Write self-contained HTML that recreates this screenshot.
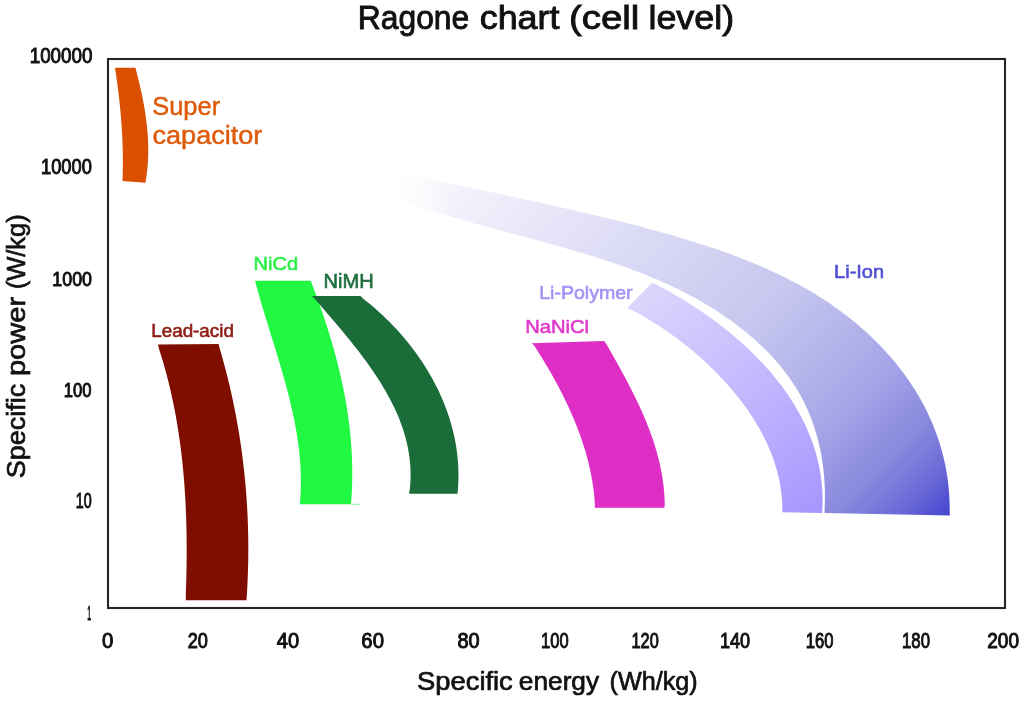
<!DOCTYPE html>
<html><head><meta charset="utf-8"><title>Ragone chart (cell level)</title>
<style>
html,body{margin:0;padding:0;background:#fff;width:1024px;height:705px;overflow:hidden}
svg{display:block}
text{font-family:"Liberation Sans", "DejaVu Sans", sans-serif}
.tick{stroke:#111;stroke-width:1.0px}
.title{stroke:#111;stroke-width:0.9px}
.axis{stroke:#111;stroke-width:0.7px}
.big{stroke:#DE5A0A;stroke-width:0.45px}
.lab{stroke-width:0.6px}
</style></head><body>
<svg width="1024" height="705" viewBox="0 0 1024 705">
<defs>
<linearGradient id="gLion" gradientUnits="userSpaceOnUse" x1="300" y1="300" x2="730" y2="730">
<stop offset="0" stop-color="#f6f5fc"/>
<stop offset="0.116" stop-color="#eeedfa"/>
<stop offset="0.337" stop-color="#dad9f5"/>
<stop offset="0.558" stop-color="#c6c6ef"/>
<stop offset="0.756" stop-color="#a6a6e8"/>
<stop offset="0.872" stop-color="#8888de"/>
<stop offset="0.94" stop-color="#6c6cd8"/>
<stop offset="1" stop-color="#4848d0"/>
</linearGradient>
<linearGradient id="gFade" gradientUnits="userSpaceOnUse" x1="396" y1="0" x2="460" y2="0">
<stop offset="0" stop-color="#fff" stop-opacity="1"/>
<stop offset="1" stop-color="#fff" stop-opacity="0"/>
</linearGradient>
<linearGradient id="gLipo" gradientUnits="userSpaceOnUse" x1="640" y1="290" x2="815" y2="515">
<stop offset="0" stop-color="#dcd6fc"/>
<stop offset="0.5" stop-color="#c4b8fe"/>
<stop offset="1" stop-color="#a696ff"/>
</linearGradient>
</defs>
<rect x="0" y="0" width="1024" height="705" fill="#fff"/>
<rect x="108" y="59" width="897" height="549" fill="none" stroke="#262626" stroke-width="2.1"/>
<path d="M400.00,200.00 L404.78,201.14 L409.31,202.80 L413.84,204.42 L418.39,206.01 L422.96,207.57 L427.54,209.11 L432.14,210.61 L436.74,212.10 L441.36,213.55 L445.99,214.99 L450.63,216.40 L455.28,217.79 L459.94,219.17 L464.61,220.52 L469.28,221.87 L473.97,223.19 L478.65,224.51 L483.35,225.81 L488.05,227.10 L492.76,228.39 L497.47,229.67 L502.18,230.94 L506.89,232.20 L511.61,233.47 L516.33,234.73 L521.05,235.99 L525.77,237.25 L530.49,238.52 L535.21,239.79 L539.92,241.07 L544.64,242.35 L549.35,243.64 L554.05,244.94 L558.76,246.25 L563.45,247.57 L568.14,248.91 L572.83,250.27 L577.51,251.64 L582.17,253.02 L586.84,254.43 L591.49,255.86 L596.13,257.31 L600.76,258.79 L605.38,260.29 L609.99,261.81 L614.59,263.37 L619.17,264.95 L623.74,266.57 L628.29,268.21 L632.83,269.90 L637.36,271.61 L641.87,273.36 L646.36,275.15 L650.83,276.98 L655.28,278.86 L659.72,280.77 L664.14,282.72 L668.53,284.73 L672.91,286.77 L677.26,288.87 L681.59,291.01 L685.90,293.21 L690.19,295.46 L694.45,297.76 L698.68,300.11 L702.89,302.52 L707.08,304.99 L711.23,307.52 L715.36,310.11 L719.45,312.76 L723.51,315.47 L727.53,318.24 L731.52,321.07 L735.45,323.96 L739.34,326.91 L743.19,329.93 L746.98,333.01 L750.71,336.15 L754.39,339.36 L758.01,342.63 L761.57,345.96 L765.06,349.36 L768.48,352.83 L771.83,356.36 L775.10,359.95 L778.29,363.61 L781.40,367.34 L784.42,371.13 L787.34,374.99 L790.17,378.92 L792.90,382.91 L795.52,386.96 L798.03,391.09 L800.42,395.28 L802.70,399.53 L804.87,403.85 L806.91,408.22 L808.85,412.66 L810.66,417.14 L812.37,421.68 L813.96,426.26 L815.44,430.89 L816.81,435.55 L818.07,440.26 L819.22,445.00 L820.26,449.77 L821.19,454.56 L822.02,459.38 L822.74,464.23 L823.36,469.09 L823.88,473.96 L824.29,478.85 L824.60,483.74 L824.80,488.64 L824.91,493.55 L824.92,498.45 L824.83,503.34 L824.64,508.23 L824.60,513.00 L949.80,515.60 L949.70,510.37 L949.63,503.98 L949.39,497.66 L948.98,491.41 L948.39,485.21 L947.64,479.09 L946.72,473.03 L945.64,467.03 L944.40,461.11 L943.01,455.25 L941.46,449.45 L939.77,443.73 L937.92,438.07 L935.94,432.49 L933.81,426.97 L931.54,421.53 L929.14,416.15 L926.60,410.85 L923.94,405.61 L921.15,400.45 L918.24,395.37 L915.20,390.35 L912.05,385.41 L908.78,380.55 L905.40,375.76 L901.92,371.04 L898.32,366.40 L894.63,361.84 L890.83,357.35 L886.94,352.94 L882.95,348.61 L878.87,344.35 L874.71,340.18 L870.45,336.08 L866.12,332.07 L861.71,328.13 L857.22,324.27 L852.65,320.50 L848.02,316.81 L843.32,313.20 L838.55,309.67 L833.72,306.23 L828.83,302.87 L823.89,299.59 L818.89,296.40 L813.85,293.29 L808.75,290.26 L803.60,287.31 L798.41,284.43 L793.17,281.63 L787.90,278.90 L782.58,276.25 L777.22,273.66 L771.82,271.13 L766.39,268.67 L760.92,266.28 L755.42,263.94 L749.89,261.66 L744.33,259.44 L738.75,257.28 L733.14,255.16 L727.51,253.10 L721.85,251.08 L716.18,249.11 L710.48,247.19 L704.77,245.31 L699.05,243.47 L693.31,241.67 L687.56,239.90 L681.80,238.17 L676.04,236.47 L670.27,234.80 L664.49,233.17 L658.71,231.56 L652.93,229.97 L647.15,228.41 L641.37,226.87 L635.59,225.35 L629.81,223.85 L624.03,222.37 L618.25,220.92 L612.47,219.48 L606.69,218.06 L600.90,216.65 L595.12,215.27 L589.34,213.89 L583.55,212.54 L577.77,211.19 L571.98,209.86 L566.20,208.54 L560.41,207.23 L554.63,205.93 L548.84,204.63 L543.05,203.35 L537.26,202.08 L531.48,200.81 L525.69,199.54 L519.90,198.28 L514.11,197.03 L508.32,195.78 L502.53,194.53 L496.74,193.28 L490.95,192.03 L485.15,190.78 L479.36,189.53 L473.57,188.28 L467.78,187.02 L461.98,185.76 L456.19,184.50 L450.39,183.23 L444.60,181.95 L438.80,180.67 L433.00,179.38 L427.20,178.07 L421.41,176.76 L415.61,175.44 L409.81,174.11 L404.01,172.76 L398.00,172.00 Z" fill="url(#gLion)"/>
<path d="M400.00,200.00 L404.78,201.14 L409.31,202.80 L413.84,204.42 L418.39,206.01 L422.96,207.57 L427.54,209.11 L432.14,210.61 L436.74,212.10 L441.36,213.55 L445.99,214.99 L450.63,216.40 L455.28,217.79 L459.94,219.17 L464.61,220.52 L469.28,221.87 L473.97,223.19 L478.65,224.51 L483.35,225.81 L488.05,227.10 L492.76,228.39 L497.47,229.67 L502.18,230.94 L506.89,232.20 L511.61,233.47 L516.33,234.73 L521.05,235.99 L525.77,237.25 L530.49,238.52 L535.21,239.79 L539.92,241.07 L544.64,242.35 L549.35,243.64 L554.05,244.94 L558.76,246.25 L563.45,247.57 L568.14,248.91 L572.83,250.27 L577.51,251.64 L582.17,253.02 L586.84,254.43 L591.49,255.86 L596.13,257.31 L600.76,258.79 L605.38,260.29 L609.99,261.81 L614.59,263.37 L619.17,264.95 L623.74,266.57 L628.29,268.21 L632.83,269.90 L637.36,271.61 L641.87,273.36 L646.36,275.15 L650.83,276.98 L655.28,278.86 L659.72,280.77 L664.14,282.72 L668.53,284.73 L672.91,286.77 L677.26,288.87 L681.59,291.01 L685.90,293.21 L690.19,295.46 L694.45,297.76 L698.68,300.11 L702.89,302.52 L707.08,304.99 L711.23,307.52 L715.36,310.11 L719.45,312.76 L723.51,315.47 L727.53,318.24 L731.52,321.07 L735.45,323.96 L739.34,326.91 L743.19,329.93 L746.98,333.01 L750.71,336.15 L754.39,339.36 L758.01,342.63 L761.57,345.96 L765.06,349.36 L768.48,352.83 L771.83,356.36 L775.10,359.95 L778.29,363.61 L781.40,367.34 L784.42,371.13 L787.34,374.99 L790.17,378.92 L792.90,382.91 L795.52,386.96 L798.03,391.09 L800.42,395.28 L802.70,399.53 L804.87,403.85 L806.91,408.22 L808.85,412.66 L810.66,417.14 L812.37,421.68 L813.96,426.26 L815.44,430.89 L816.81,435.55 L818.07,440.26 L819.22,445.00 L820.26,449.77 L821.19,454.56 L822.02,459.38 L822.74,464.23 L823.36,469.09 L823.88,473.96 L824.29,478.85 L824.60,483.74 L824.80,488.64 L824.91,493.55 L824.92,498.45 L824.83,503.34 L824.64,508.23 L824.60,513.00 L949.80,515.60 L949.70,510.37 L949.63,503.98 L949.39,497.66 L948.98,491.41 L948.39,485.21 L947.64,479.09 L946.72,473.03 L945.64,467.03 L944.40,461.11 L943.01,455.25 L941.46,449.45 L939.77,443.73 L937.92,438.07 L935.94,432.49 L933.81,426.97 L931.54,421.53 L929.14,416.15 L926.60,410.85 L923.94,405.61 L921.15,400.45 L918.24,395.37 L915.20,390.35 L912.05,385.41 L908.78,380.55 L905.40,375.76 L901.92,371.04 L898.32,366.40 L894.63,361.84 L890.83,357.35 L886.94,352.94 L882.95,348.61 L878.87,344.35 L874.71,340.18 L870.45,336.08 L866.12,332.07 L861.71,328.13 L857.22,324.27 L852.65,320.50 L848.02,316.81 L843.32,313.20 L838.55,309.67 L833.72,306.23 L828.83,302.87 L823.89,299.59 L818.89,296.40 L813.85,293.29 L808.75,290.26 L803.60,287.31 L798.41,284.43 L793.17,281.63 L787.90,278.90 L782.58,276.25 L777.22,273.66 L771.82,271.13 L766.39,268.67 L760.92,266.28 L755.42,263.94 L749.89,261.66 L744.33,259.44 L738.75,257.28 L733.14,255.16 L727.51,253.10 L721.85,251.08 L716.18,249.11 L710.48,247.19 L704.77,245.31 L699.05,243.47 L693.31,241.67 L687.56,239.90 L681.80,238.17 L676.04,236.47 L670.27,234.80 L664.49,233.17 L658.71,231.56 L652.93,229.97 L647.15,228.41 L641.37,226.87 L635.59,225.35 L629.81,223.85 L624.03,222.37 L618.25,220.92 L612.47,219.48 L606.69,218.06 L600.90,216.65 L595.12,215.27 L589.34,213.89 L583.55,212.54 L577.77,211.19 L571.98,209.86 L566.20,208.54 L560.41,207.23 L554.63,205.93 L548.84,204.63 L543.05,203.35 L537.26,202.08 L531.48,200.81 L525.69,199.54 L519.90,198.28 L514.11,197.03 L508.32,195.78 L502.53,194.53 L496.74,193.28 L490.95,192.03 L485.15,190.78 L479.36,189.53 L473.57,188.28 L467.78,187.02 L461.98,185.76 L456.19,184.50 L450.39,183.23 L444.60,181.95 L438.80,180.67 L433.00,179.38 L427.20,178.07 L421.41,176.76 L415.61,175.44 L409.81,174.11 L404.01,172.76 L398.00,172.00 Z" fill="url(#gFade)"/>
<path d="M627.10,308.30 L630.58,309.52 L633.54,311.05 L636.49,312.60 L639.43,314.20 L642.35,315.83 L645.26,317.49 L648.16,319.18 L651.05,320.91 L653.92,322.67 L656.78,324.47 L659.62,326.29 L662.45,328.15 L665.26,330.04 L668.06,331.97 L670.84,333.92 L673.60,335.90 L676.35,337.92 L679.08,339.96 L681.79,342.03 L684.48,344.14 L687.15,346.27 L689.81,348.43 L692.44,350.62 L695.05,352.83 L697.64,355.08 L700.21,357.35 L702.76,359.65 L705.29,361.97 L707.79,364.32 L710.27,366.70 L712.73,369.10 L715.16,371.53 L717.57,373.99 L719.95,376.46 L722.31,378.97 L724.65,381.49 L726.95,384.04 L729.23,386.62 L731.48,389.21 L733.69,391.83 L735.88,394.48 L738.03,397.15 L740.14,399.84 L742.22,402.56 L744.26,405.30 L746.26,408.06 L748.23,410.85 L750.15,413.66 L752.03,416.49 L753.87,419.35 L755.66,422.23 L757.40,425.14 L759.10,428.06 L760.75,431.01 L762.34,433.99 L763.89,436.98 L765.39,440.00 L766.83,443.04 L768.21,446.11 L769.54,449.20 L770.81,452.31 L772.03,455.44 L773.18,458.60 L774.27,461.77 L775.30,464.98 L776.26,468.20 L777.16,471.44 L778.00,474.71 L778.76,478.00 L779.46,481.32 L780.08,484.65 L780.64,488.01 L781.12,491.39 L781.53,494.79 L781.86,498.22 L782.11,501.66 L782.29,505.13 L782.39,508.62 L782.00,512.20 L822.00,513.00 L822.41,509.19 L822.55,505.18 L822.60,501.19 L822.56,497.23 L822.43,493.29 L822.21,489.38 L821.90,485.50 L821.50,481.64 L821.03,477.80 L820.46,474.00 L819.82,470.22 L819.09,466.47 L818.29,462.74 L817.41,459.04 L816.44,455.37 L815.41,451.72 L814.30,448.10 L813.11,444.51 L811.85,440.95 L810.53,437.42 L809.13,433.91 L807.66,430.43 L806.13,426.98 L804.53,423.55 L802.87,420.16 L801.14,416.79 L799.35,413.46 L797.50,410.15 L795.59,406.87 L793.63,403.62 L791.60,400.39 L789.53,397.20 L787.39,394.04 L785.21,390.90 L782.97,387.80 L780.68,384.73 L778.34,381.68 L775.95,378.67 L773.52,375.68 L771.04,372.73 L768.52,369.81 L765.95,366.91 L763.35,364.05 L760.70,361.22 L758.01,358.42 L755.29,355.65 L752.53,352.92 L749.73,350.21 L746.90,347.53 L744.04,344.89 L741.15,342.28 L738.22,339.70 L735.27,337.15 L732.29,334.64 L729.28,332.16 L726.25,329.71 L723.19,327.29 L720.12,324.90 L717.02,322.55 L713.90,320.23 L710.76,317.95 L707.60,315.69 L704.43,313.48 L701.24,311.29 L698.04,309.14 L694.83,307.02 L691.60,304.94 L688.37,302.89 L685.13,300.87 L681.88,298.89 L678.62,296.94 L675.36,295.03 L672.10,293.15 L668.83,291.31 L665.56,289.50 L662.30,287.73 L659.03,285.99 L655.77,284.29 L651.90,282.80 Z" fill="url(#gLipo)"/>
<path d="M531.70,343.30 L534.13,345.38 L535.73,347.88 L537.32,350.39 L538.90,352.91 L540.48,355.44 L542.05,357.99 L543.60,360.55 L545.15,363.13 L546.69,365.71 L548.22,368.31 L549.73,370.93 L551.23,373.55 L552.72,376.19 L554.19,378.84 L555.65,381.49 L557.10,384.17 L558.52,386.85 L559.93,389.54 L561.33,392.25 L562.70,394.96 L564.06,397.69 L565.40,400.43 L566.71,403.18 L568.01,405.94 L569.28,408.70 L570.54,411.48 L571.77,414.27 L572.97,417.07 L574.15,419.87 L575.31,422.69 L576.44,425.52 L577.55,428.35 L578.63,431.19 L579.68,434.05 L580.70,436.91 L581.69,439.77 L582.66,442.65 L583.59,445.54 L584.50,448.43 L585.37,451.33 L586.21,454.24 L587.01,457.15 L587.79,460.07 L588.53,463.00 L589.23,465.94 L589.90,468.88 L590.53,471.83 L591.13,474.78 L591.68,477.75 L592.20,480.71 L592.68,483.69 L593.12,486.66 L593.52,489.65 L593.88,492.64 L594.20,495.63 L594.48,498.63 L594.71,501.64 L594.90,504.65 L594.70,507.80 L664.40,507.80 L664.69,504.66 L664.64,501.60 L664.53,498.54 L664.38,495.50 L664.17,492.46 L663.91,489.43 L663.60,486.41 L663.24,483.40 L662.84,480.39 L662.39,477.40 L661.89,474.41 L661.35,471.43 L660.76,468.46 L660.14,465.50 L659.47,462.54 L658.76,459.60 L658.01,456.66 L657.22,453.73 L656.40,450.81 L655.54,447.90 L654.64,445.00 L653.71,442.10 L652.75,439.22 L651.75,436.34 L650.72,433.47 L649.67,430.61 L648.58,427.75 L647.47,424.91 L646.33,422.07 L645.16,419.25 L643.97,416.43 L642.75,413.61 L641.51,410.81 L640.25,408.02 L638.97,405.23 L637.66,402.45 L636.34,399.69 L635.00,396.93 L633.65,394.17 L632.28,391.43 L630.89,388.69 L629.49,385.97 L628.08,383.25 L626.65,380.54 L625.22,377.84 L623.77,375.14 L622.32,372.46 L620.86,369.78 L619.39,367.11 L617.92,364.45 L616.44,361.80 L614.96,359.16 L613.47,356.53 L611.99,353.90 L610.50,351.28 L609.02,348.67 L607.53,346.07 L606.05,343.48 L604.00,341.10 Z" fill="#DE2EC6"/>
<path d="M255.00,280.80 L256.03,284.58 L257.05,288.30 L258.09,292.02 L259.15,295.74 L260.22,299.45 L261.32,303.17 L262.42,306.89 L263.54,310.61 L264.66,314.33 L265.80,318.05 L266.94,321.77 L268.09,325.49 L269.24,329.22 L270.39,332.94 L271.55,336.67 L272.70,340.39 L273.85,344.12 L275.00,347.85 L276.15,351.59 L277.28,355.32 L278.41,359.06 L279.53,362.80 L280.64,366.54 L281.73,370.29 L282.81,374.03 L283.88,377.79 L284.92,381.54 L285.95,385.30 L286.96,389.06 L287.94,392.83 L288.90,396.60 L289.84,400.37 L290.74,404.15 L291.62,407.93 L292.47,411.71 L293.29,415.51 L294.08,419.30 L294.83,423.10 L295.54,426.91 L296.22,430.72 L296.86,434.54 L297.45,438.36 L298.01,442.19 L298.52,446.02 L298.98,449.87 L299.40,453.71 L299.77,457.57 L300.09,461.43 L300.36,465.29 L300.57,469.17 L300.73,473.05 L300.83,476.94 L300.88,480.83 L300.87,484.73 L300.79,488.65 L300.65,492.56 L300.45,496.49 L300.19,500.43 L299.90,504.30 L351.00,504.30 L351.29,500.43 L351.56,496.54 L351.79,492.65 L351.97,488.76 L352.11,484.87 L352.21,480.98 L352.27,477.09 L352.29,473.21 L352.27,469.33 L352.20,465.45 L352.10,461.57 L351.96,457.69 L351.78,453.82 L351.56,449.95 L351.30,446.08 L351.01,442.21 L350.68,438.35 L350.32,434.49 L349.91,430.63 L349.48,426.78 L349.01,422.93 L348.51,419.09 L347.97,415.25 L347.40,411.41 L346.79,407.58 L346.16,403.75 L345.49,399.93 L344.80,396.11 L344.07,392.29 L343.31,388.48 L342.53,384.68 L341.71,380.88 L340.87,377.09 L340.00,373.30 L339.10,369.52 L338.17,365.74 L337.22,361.97 L336.24,358.21 L335.24,354.45 L334.22,350.70 L333.16,346.96 L332.09,343.22 L330.99,339.49 L329.87,335.77 L328.73,332.05 L327.56,328.34 L326.38,324.64 L325.17,320.95 L323.94,317.27 L322.70,313.59 L321.43,309.92 L320.15,306.26 L318.85,302.61 L317.53,298.97 L316.19,295.33 L314.84,291.71 L313.47,288.09 L312.08,284.48 L310.80,280.80 Z" fill="#20F842"/>
<path d="M351 504.3 L360.5 504.3" stroke="#90f8a0" stroke-width="1"/>
<path d="M311.60,296.10 L314.68,298.69 L317.08,301.49 L319.49,304.31 L321.93,307.15 L324.38,310.01 L326.85,312.88 L329.32,315.77 L331.81,318.68 L334.30,321.61 L336.79,324.55 L339.29,327.51 L341.78,330.49 L344.27,333.49 L346.76,336.51 L349.23,339.54 L351.69,342.59 L354.14,345.67 L356.57,348.76 L358.98,351.87 L361.37,355.00 L363.73,358.15 L366.06,361.32 L368.37,364.51 L370.64,367.72 L372.87,370.95 L375.07,374.20 L377.23,377.47 L379.34,380.76 L381.41,384.07 L383.43,387.40 L385.40,390.76 L387.31,394.13 L389.17,397.53 L390.97,400.94 L392.71,404.38 L394.38,407.85 L395.99,411.33 L397.53,414.84 L398.99,418.36 L400.38,421.91 L401.70,425.49 L402.93,429.08 L404.09,432.70 L405.15,436.35 L406.13,440.01 L407.02,443.70 L407.82,447.41 L408.52,451.15 L409.12,454.91 L409.63,458.70 L410.03,462.51 L410.32,466.34 L410.51,470.20 L410.58,474.08 L410.54,477.99 L410.39,481.92 L410.12,485.88 L409.72,489.86 L409.10,493.70 L457.40,493.70 L457.86,489.91 L458.14,485.95 L458.33,482.00 L458.43,478.06 L458.45,474.13 L458.38,470.21 L458.23,466.30 L457.99,462.40 L457.66,458.52 L457.26,454.65 L456.78,450.79 L456.21,446.95 L455.57,443.12 L454.85,439.31 L454.05,435.52 L453.18,431.75 L452.23,427.99 L451.21,424.26 L450.12,420.54 L448.96,416.85 L447.73,413.17 L446.43,409.52 L445.06,405.89 L443.62,402.29 L442.12,398.71 L440.56,395.15 L438.93,391.62 L437.25,388.12 L435.50,384.64 L433.69,381.19 L431.82,377.77 L429.89,374.38 L427.91,371.02 L425.88,367.69 L423.78,364.39 L421.64,361.12 L419.44,357.88 L417.20,354.68 L414.90,351.51 L412.56,348.38 L410.16,345.29 L407.72,342.22 L405.24,339.20 L402.71,336.21 L400.14,333.27 L397.52,330.36 L394.87,327.49 L392.18,324.66 L389.44,321.87 L386.67,319.13 L383.87,316.43 L381.02,313.77 L378.15,311.15 L375.24,308.58 L372.30,306.06 L369.32,303.58 L366.32,301.15 L363.29,298.76 L360.40,296.10 Z" fill="#1A6C39"/>
<path d="M158.00,344.50 L158.97,348.74 L160.31,352.94 L161.62,357.15 L162.88,361.37 L164.10,365.60 L165.28,369.84 L166.43,374.08 L167.54,378.33 L168.61,382.58 L169.65,386.84 L170.65,391.11 L171.61,395.38 L172.54,399.66 L173.44,403.95 L174.30,408.24 L175.12,412.54 L175.92,416.84 L176.68,421.15 L177.41,425.46 L178.10,429.78 L178.77,434.10 L179.41,438.43 L180.01,442.76 L180.59,447.09 L181.13,451.43 L181.65,455.77 L182.14,460.12 L182.60,464.47 L183.03,468.83 L183.43,473.18 L183.81,477.54 L184.17,481.91 L184.49,486.27 L184.80,490.64 L185.07,495.01 L185.33,499.38 L185.56,503.76 L185.77,508.14 L185.95,512.51 L186.11,516.89 L186.25,521.28 L186.37,525.66 L186.47,530.04 L186.55,534.43 L186.60,538.82 L186.64,543.20 L186.66,547.59 L186.66,551.98 L186.65,556.37 L186.61,560.75 L186.56,565.14 L186.49,569.53 L186.41,573.91 L186.31,578.30 L186.19,582.69 L186.06,587.07 L185.92,591.45 L185.76,595.83 L185.80,600.20 L246.40,600.20 L246.79,595.83 L247.06,591.45 L247.30,587.06 L247.52,582.67 L247.71,578.28 L247.87,573.89 L248.01,569.50 L248.12,565.11 L248.21,560.72 L248.27,556.32 L248.30,551.93 L248.31,547.54 L248.29,543.14 L248.24,538.75 L248.17,534.36 L248.07,529.97 L247.94,525.58 L247.79,521.19 L247.61,516.80 L247.40,512.42 L247.17,508.03 L246.91,503.65 L246.62,499.26 L246.31,494.88 L245.97,490.51 L245.61,486.13 L245.21,481.76 L244.79,477.39 L244.35,473.02 L243.87,468.65 L243.37,464.29 L242.85,459.93 L242.29,455.58 L241.71,451.23 L241.11,446.88 L240.47,442.53 L239.81,438.19 L239.12,433.86 L238.41,429.53 L237.66,425.20 L236.89,420.88 L236.10,416.56 L235.27,412.25 L234.42,407.94 L233.55,403.64 L232.64,399.34 L231.71,395.05 L230.75,390.76 L229.77,386.48 L228.75,382.21 L227.71,377.94 L226.64,373.68 L225.55,369.43 L224.43,365.18 L223.28,360.94 L222.10,356.71 L220.90,352.48 L219.66,348.27 L218.60,344.00 Z" fill="#800E00"/>
<path d="M115.00,67.80 L115.26,69.71 L115.56,71.61 L115.84,73.52 L116.12,75.42 L116.40,77.33 L116.67,79.24 L116.94,81.15 L117.20,83.05 L117.46,84.96 L117.71,86.87 L117.96,88.78 L118.20,90.69 L118.44,92.61 L118.67,94.52 L118.89,96.43 L119.11,98.34 L119.32,100.26 L119.53,102.17 L119.73,104.09 L119.93,106.00 L120.12,107.92 L120.31,109.84 L120.49,111.75 L120.66,113.67 L120.82,115.59 L120.98,117.51 L121.14,119.42 L121.29,121.34 L121.43,123.26 L121.56,125.18 L121.69,127.10 L121.82,129.02 L121.93,130.94 L122.04,132.87 L122.14,134.79 L122.24,136.71 L122.33,138.63 L122.41,140.56 L122.49,142.48 L122.56,144.40 L122.62,146.33 L122.67,148.25 L122.72,150.18 L122.76,152.10 L122.79,154.03 L122.82,155.95 L122.84,157.88 L122.85,159.80 L122.85,161.73 L122.85,163.65 L122.84,165.58 L122.82,167.51 L122.79,169.44 L122.76,171.36 L122.72,173.29 L122.67,175.22 L122.61,177.15 L122.54,179.07 L122.50,181.00 L145.30,182.80 L145.67,180.84 L146.00,178.88 L146.30,176.92 L146.59,174.96 L146.85,173.00 L147.08,171.03 L147.29,169.07 L147.48,167.10 L147.65,165.13 L147.80,163.17 L147.92,161.20 L148.03,159.23 L148.11,157.27 L148.18,155.30 L148.22,153.33 L148.24,151.36 L148.25,149.39 L148.23,147.42 L148.20,145.46 L148.14,143.49 L148.07,141.52 L147.98,139.55 L147.88,137.59 L147.76,135.62 L147.62,133.66 L147.46,131.69 L147.29,129.73 L147.10,127.77 L146.90,125.80 L146.68,123.84 L146.45,121.88 L146.21,119.93 L145.95,117.97 L145.67,116.01 L145.39,114.06 L145.09,112.11 L144.77,110.15 L144.45,108.21 L144.11,106.26 L143.76,104.31 L143.40,102.37 L143.03,100.43 L142.65,98.49 L142.26,96.55 L141.86,94.61 L141.45,92.68 L141.03,90.75 L140.61,88.82 L140.17,86.90 L139.72,84.97 L139.27,83.05 L138.81,81.14 L138.35,79.22 L137.87,77.31 L137.39,75.40 L136.91,73.50 L136.41,71.60 L135.92,69.70 L135.40,67.80 Z" fill="#DA4F00"/>
<text x="357.84" y="28.70" font-size="33.00" fill="#111111" textLength="111.33" lengthAdjust="spacingAndGlyphs" class="title">Ragone</text>
<text x="479.73" y="28.70" font-size="33.00" fill="#111111" textLength="79.77" lengthAdjust="spacingAndGlyphs" class="title">chart</text>
<text x="568.92" y="28.70" font-size="33.00" fill="#111111" textLength="70.41" lengthAdjust="spacingAndGlyphs" class="title">(cell</text>
<text x="648.45" y="28.70" font-size="33.00" fill="#111111" textLength="85.64" lengthAdjust="spacingAndGlyphs" class="title">level)</text>
<text x="29.69" y="63.38" font-size="21.61" fill="#111111" textLength="62.80" lengthAdjust="spacingAndGlyphs" class="tick">100000</text>
<text x="41.03" y="174.19" font-size="21.47" fill="#111111" textLength="50.81" lengthAdjust="spacingAndGlyphs" class="tick">10000</text>
<text x="52.33" y="285.69" font-size="21.05" fill="#111111" textLength="39.62" lengthAdjust="spacingAndGlyphs" class="tick">1000</text>
<text x="63.80" y="396.60" font-size="20.48" fill="#111111" textLength="27.69" lengthAdjust="spacingAndGlyphs" class="tick">100</text>
<text x="75.70" y="508.39" font-size="21.19" fill="#111111" textLength="15.91" lengthAdjust="spacingAndGlyphs" class="tick">10</text>
<text x="87.23" y="619.99" font-size="21.05" fill="#111111" textLength="3.80" lengthAdjust="spacingAndGlyphs" class="tick">1</text>
<text x="102.09" y="647.78" font-size="21.75" fill="#111111" textLength="11.31" lengthAdjust="spacingAndGlyphs" class="tick">0</text>
<text x="187.67" y="647.78" font-size="21.75" fill="#111111" textLength="20.21" lengthAdjust="spacingAndGlyphs" class="tick">20</text>
<text x="276.80" y="647.78" font-size="21.75" fill="#111111" textLength="22.36" lengthAdjust="spacingAndGlyphs" class="tick">40</text>
<text x="361.37" y="647.78" font-size="21.75" fill="#111111" textLength="22.62" lengthAdjust="spacingAndGlyphs" class="tick">60</text>
<text x="457.55" y="647.78" font-size="21.75" fill="#111111" textLength="22.14" lengthAdjust="spacingAndGlyphs" class="tick">80</text>
<text x="541.10" y="647.78" font-size="21.75" fill="#111111" textLength="27.53" lengthAdjust="spacingAndGlyphs" class="tick">100</text>
<text x="631.53" y="647.78" font-size="21.75" fill="#111111" textLength="27.19" lengthAdjust="spacingAndGlyphs" class="tick">120</text>
<text x="719.89" y="647.78" font-size="21.75" fill="#111111" textLength="30.16" lengthAdjust="spacingAndGlyphs" class="tick">140</text>
<text x="805.68" y="647.78" font-size="21.75" fill="#111111" textLength="27.72" lengthAdjust="spacingAndGlyphs" class="tick">160</text>
<text x="902.05" y="647.78" font-size="21.75" fill="#111111" textLength="27.88" lengthAdjust="spacingAndGlyphs" class="tick">180</text>
<text x="987.26" y="647.78" font-size="21.75" fill="#111111" textLength="31.74" lengthAdjust="spacingAndGlyphs" class="tick">200</text>
<text x="417.11" y="690.40" font-size="25.60" fill="#111111" textLength="95.68" lengthAdjust="spacingAndGlyphs" class="axis">Specific</text>
<text x="518.84" y="690.40" font-size="25.60" fill="#111111" textLength="80.28" lengthAdjust="spacingAndGlyphs" class="axis">energy</text>
<text x="609.57" y="690.40" font-size="25.60" fill="#111111" textLength="88.05" lengthAdjust="spacingAndGlyphs" class="axis">(Wh/kg)</text>
<text x="152.26" y="114.80" font-size="25.60" fill="#DE5A0A" textLength="67.86" lengthAdjust="spacingAndGlyphs" class="big">Super</text>
<text x="152.54" y="143.70" font-size="25.60" fill="#DE5A0A" textLength="109.84" lengthAdjust="spacingAndGlyphs" class="big">capacitor</text>
<text x="151.27" y="336.70" font-size="18.09" fill="#8E1E14" stroke="#8E1E14" textLength="82.58" lengthAdjust="spacingAndGlyphs" class="lab">Lead-acid</text>
<text x="253.48" y="270.30" font-size="18.92" fill="#2AF04A" stroke="#2AF04A" textLength="44.60" lengthAdjust="spacingAndGlyphs" class="lab">NiCd</text>
<text x="323.59" y="287.50" font-size="19.33" fill="#1E6E3E" stroke="#1E6E3E" textLength="50.25" lengthAdjust="spacingAndGlyphs" class="lab">NiMH</text>
<text x="525.15" y="333.10" font-size="18.64" fill="#E03CCC" stroke="#E03CCC" textLength="63.90" lengthAdjust="spacingAndGlyphs" class="lab">NaNiCl</text>
<text x="539.21" y="298.50" font-size="18.23" fill="#A194F6" stroke="#A194F6" textLength="93.39" lengthAdjust="spacingAndGlyphs" class="lab">Li-Polymer</text>
<text x="834.12" y="277.90" font-size="18.92" fill="#4E4ED6" stroke="#4E4ED6" textLength="49.94" lengthAdjust="spacingAndGlyphs" class="lab">Li-Ion</text>
<text transform="rotate(-90)" x="-478.17" y="25.40" font-size="25.60" fill="#111111" textLength="94.35" lengthAdjust="spacingAndGlyphs" class="axis">Specific</text>
<text transform="rotate(-90)" x="-376.11" y="25.40" font-size="25.60" fill="#111111" textLength="79.31" lengthAdjust="spacingAndGlyphs" class="axis">power</text>
<text transform="rotate(-90)" x="-289.37" y="25.40" font-size="25.60" fill="#111111" textLength="75.17" lengthAdjust="spacingAndGlyphs" class="axis">(W/kg)</text>
</svg>
</body></html>
